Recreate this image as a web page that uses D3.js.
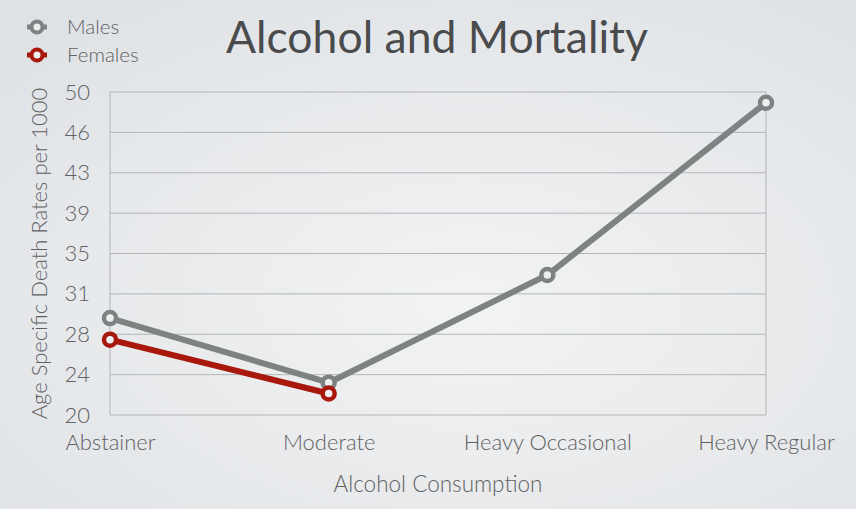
<!DOCTYPE html>
<html><head><meta charset="utf-8">
<script src="https://cdn.jsdelivr.net/npm/d3@7"></script>
<style>
html,body{margin:0;padding:0;overflow:hidden;}
svg{display:block;}
text{font-family:Lato,"Open Sans",sans-serif;}
</style></head>
<body>
<script>
const categories = ["Abstainer","Moderate","Heavy Occasional","Heavy Regular"];
const males = [29, 23, 33, 49];
const females = [27, 22];
const yTickValues = [20, 23.75, 27.5, 31.25, 35, 38.75, 42.5, 46.25, 50];
const yTickLabels = ["20","24","28","31","35","39","43","46","50"];
const seriesNames = ["Males","Females"];
const seriesColors = ["#7f8283","#a8180c"];

const W = 856, H = 509;
const m = {left:110, right:90, top:92, bottom:94};
const svg = d3.select("body").append("svg").attr("width",W).attr("height",H);

const defs = svg.append("defs");
const rg = defs.append("radialGradient").attr("id","bg").attr("cx","55%").attr("cy","60%").attr("r","75%");
rg.append("stop").attr("offset","0%").attr("stop-color","#f2f3f4");
rg.append("stop").attr("offset","100%").attr("stop-color","#dfe2e5");
svg.append("rect").attr("width",W).attr("height",H).attr("fill","url(#bg)");

const x = d3.scalePoint().domain(categories).range([m.left, W-m.right]).padding(0);
const y = d3.scaleLinear().domain([20,50]).range([H-m.bottom, m.top]);

// gridlines
svg.append("g").selectAll("line").data(yTickValues).join("line")
  .attr("x1",m.left).attr("x2",W-m.right)
  .attr("y1",d=>y(d)).attr("y2",d=>y(d))
  .attr("stroke","#b3b5b7").attr("stroke-width",1);
// frame verticals
[m.left, W-m.right].forEach(xx=>{
  svg.append("line").attr("x1",xx).attr("x2",xx).attr("y1",y(50)).attr("y2",y(20))
    .attr("stroke","#b3b5b7").attr("stroke-width",1);
});

// y axis
const yAxis = d3.axisLeft(y).tickValues(yTickValues).tickSize(0).tickPadding(20)
  .tickFormat((d,i)=>yTickLabels[i]);
const gy = svg.append("g").attr("transform",`translate(${m.left},0)`).call(yAxis);
gy.select(".domain").remove();
gy.selectAll("text").attr("font-size",22).attr("font-weight",300).attr("fill","#5f6163")
  .attr("font-family","Lato, sans-serif");

// x axis
const xAxis = d3.axisBottom(x).tickSize(0).tickPadding(19);
const gx = svg.append("g").attr("transform",`translate(0,${H-m.bottom})`).call(xAxis);
gx.select(".domain").remove();
gx.selectAll("text").attr("font-size",22).attr("font-weight",300).attr("fill","#5f6163")
  .attr("font-family","Lato, sans-serif");

// lines
const line = d3.line().x((d,i)=>x(categories[i])).y(d=>y(d));
[males, females].forEach((s,k)=>{
  svg.append("path").datum(s).attr("d",line).attr("fill","none")
    .attr("stroke",seriesColors[k]).attr("stroke-width",6).attr("stroke-linejoin","round");
});
[males, females].forEach((s,k)=>{
  svg.append("g").selectAll("circle").data(s).join("circle")
    .attr("cx",(d,i)=>x(categories[i])).attr("cy",d=>y(d)).attr("r",6)
    .attr("fill","#eeeff0").attr("stroke",seriesColors[k]).attr("stroke-width",4.5);
});

// title
svg.append("text").attr("x",437).attr("y",53).attr("text-anchor","middle")
  .attr("font-size",44.5).attr("fill","#4a4b4c").text("Alcohol and Mortality");

// axis titles
svg.append("text").attr("x",(m.left+W-m.right)/2).attr("y",492).attr("text-anchor","middle")
  .attr("font-size",22.5).attr("font-weight",300).attr("fill","#5f6163").text("Alcohol Consumption");
svg.append("text").attr("transform",`translate(47,${(y(20)+y(50))/2}) rotate(-90)`)
  .attr("text-anchor","middle").attr("font-size",22).attr("font-weight",300).attr("fill","#5f6163")
  .text("Age Specific Death Rates per 1000");

// legend
const lg = svg.append("g");
seriesNames.forEach((n,k)=>{
  const cy = 27 + k*28;
  lg.append("line").attr("x1",27).attr("x2",47).attr("y1",cy).attr("y2",cy)
    .attr("stroke",seriesColors[k]).attr("stroke-width",5);
  lg.append("circle").attr("cx",37).attr("cy",cy).attr("r",5.5)
    .attr("fill","#eeeff0").attr("stroke",seriesColors[k]).attr("stroke-width",4);
  lg.append("text").attr("x",67).attr("y",cy+7).attr("font-size",20.5).attr("font-weight",300)
    .attr("fill","#5f6163").text(n);
});
</script>
</body></html>
